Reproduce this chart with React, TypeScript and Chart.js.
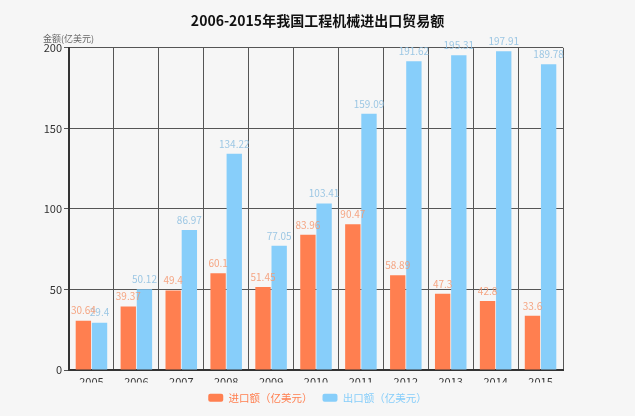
import React, { useEffect, useRef } from 'react';
import { Chart, registerables } from 'chart.js';

Chart.register(...registerables);

const years = ['2005', '2006', '2007', '2008', '2009', '2010', '2011', '2012', '2013', '2014', '2015'];
const importValues = [30.64, 39.37, 49.4, 60.1, 51.45, 83.96, 90.47, 58.89, 47.3, 42.8, 33.6];
const exportValues = [29.4, 50.12, 86.97, 134.22, 77.05, 103.41, 159.09, 191.62, 195.31, 197.91, 189.78];
const seriesNames = ['进口额（亿美元）', '出口额（亿美元）'];
const titleText = '2006-2015年我国工程机械进出口贸易额';
const yAxisTitle = '金额(亿美元)';

const ORANGE = '#FF7F50';
const BLUE = '#87CEFA';
const LABEL_COLORS = ['rgba(245,150,110,0.85)', 'rgba(140,190,225,0.85)'];
const FONT = '"Noto Sans CJK SC", "Noto Sans", sans-serif';

const valueLabels = {
  id: 'valueLabels',
  afterDatasetDraw(chart: any, args: any) {
    const ctx = chart.ctx;
    const ds = chart.data.datasets[args.index];
    ctx.save();
    ctx.font = `10px ${FONT}`;
    ctx.fillStyle = LABEL_COLORS[args.index];
    ctx.textAlign = 'center';
    ctx.textBaseline = 'bottom';
    args.meta.data.forEach((bar: any, i: number) => {
      ctx.fillText(String(ds.data[i]), bar.x, bar.y - 5);
    });
    ctx.restore();
  },
};

const extras = {
  id: 'extras',
  beforeDraw(chart: any) {
    const ctx = chart.ctx;
    ctx.save();
    ctx.fillStyle = '#f6f6f6';
    ctx.fillRect(0, 0, chart.width, chart.height);
    ctx.restore();
  },
  afterDraw(chart: any) {
    const ctx = chart.ctx;
    ctx.save();
    ctx.font = `9px ${FONT}`;
    ctx.fillStyle = '#666';
    ctx.textAlign = 'left';
    ctx.textBaseline = 'middle';
    ctx.fillText(yAxisTitle, 43, 39);
    ctx.restore();
  },
};

export default function App() {
  const ref = useRef<HTMLCanvasElement | null>(null);
  useEffect(() => {
    document.body.style.margin = '0';
    document.body.style.background = '#f6f6f6';
    const chart = new Chart(ref.current as HTMLCanvasElement, {
      type: 'bar',
      data: {
        labels: years,
        datasets: [
          { label: seriesNames[0], data: importValues, backgroundColor: ORANGE, categoryPercentage: 0.72, barPercentage: 0.95 },
          { label: seriesNames[1], data: exportValues, backgroundColor: BLUE, categoryPercentage: 0.72, barPercentage: 0.95 },
        ],
      },
      plugins: [valueLabels, extras],
      options: {
        responsive: false,
        animation: false,
        layout: { padding: { top: 0, right: 0, bottom: 3, left: 0 } },
        plugins: {
          title: {
            display: true,
            text: titleText,
            color: '#111',
            font: { size: 14, weight: 'bold', family: FONT },
            padding: { top: 12, bottom: 19 },
          },
          legend: {
            position: 'bottom',
            labels: {
              boxWidth: 15,
              boxHeight: 8,
              useBorderRadius: true,
              borderRadius: 2,
              font: { size: 10.5, family: FONT },
              padding: 10,
              generateLabels(chart: any) {
                const cols = [ORANGE, BLUE];
                return chart.data.datasets.map((ds: any, i: number) => ({
                  text: ds.label,
                  fillStyle: cols[i],
                  strokeStyle: cols[i],
                  lineWidth: 0,
                  fontColor: cols[i],
                  datasetIndex: i,
                  hidden: false,
                  borderRadius: 2,
                }));
              },
            },
          },
          tooltip: { enabled: false },
        },
        scales: {
          x: {
            offset: true,
            grid: {
              offset: true,
              drawTicks: false,
              color: (c: any) => (c.index === years.length ? '#cccccc' : '#555555'),
              lineWidth: 1,
            },
            border: { display: true, color: '#333', width: 2 },
            ticks: { color: '#333', font: { size: 11, family: FONT }, padding: 5 },
            afterFit(scale: any) { scale.height = 12.5; },
          },
          y: {
            min: 0,
            max: 200,
            ticks: { stepSize: 50, color: '#333', font: { size: 11, family: FONT }, padding: 2 },
            grid: { color: '#555555', lineWidth: 1, drawTicks: true, tickLength: 5 },
            border: { display: true, color: '#333', width: 2 },
            afterFit(scale: any) { scale.width = 69; },
          },
          y2: {
            position: 'right',
            display: true,
            grid: { display: false, drawTicks: false },
            border: { display: false },
            ticks: { display: false },
            afterFit(scale: any) { scale.width = 72; },
          },
        },
      } as any,
    });
    return () => chart.destroy();
  }, []);
  return (
    <div style={{ width: 635, height: 416, background: '#f6f6f6' }}>
      <canvas ref={ref} width={635} height={416} />
    </div>
  );
}
